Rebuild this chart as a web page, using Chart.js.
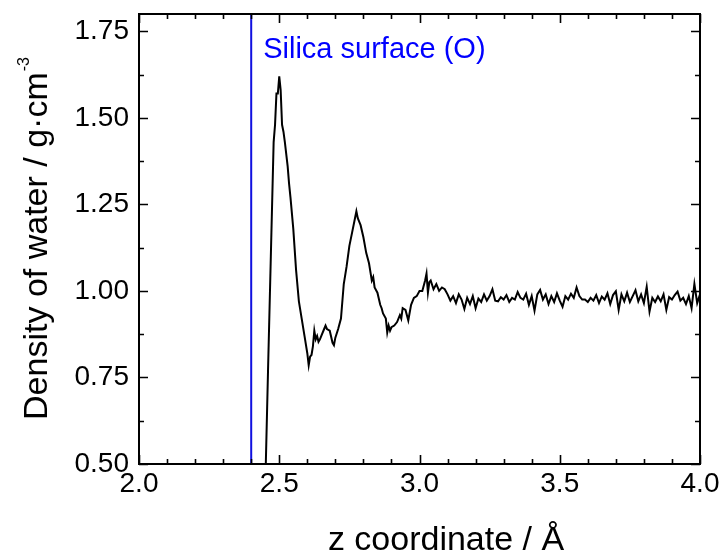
<!DOCTYPE html>
<html>
<head>
<meta charset="utf-8">
<script src="https://cdn.jsdelivr.net/npm/chart.js@4.4.0/dist/chart.umd.min.js"></script>
<style>
  html, body { margin: 0; padding: 0; background: #fff; }
  canvas { display: block; }
</style>
</head>
<body>
<canvas id="myChart" width="723" height="554"></canvas>
<script>
// water density profile next to the silica surface
const zValues = [
  2.44, 2.45, 2.46, 2.47, 2.48, 2.485, 2.49, 2.495, 2.50, 2.505,
  2.51, 2.515, 2.52, 2.53, 2.535, 2.54, 2.55, 2.56, 2.57, 2.58,
  2.59, 2.60, 2.605, 2.61, 2.615, 2.62, 2.625, 2.63, 2.635, 2.64,
  2.645, 2.65, 2.66, 2.665, 2.67, 2.68, 2.69, 2.695, 2.70, 2.71,
  2.72, 2.73, 2.74, 2.75, 2.76, 2.77, 2.775, 2.78, 2.785, 2.79,
  2.80, 2.81, 2.82, 2.83, 2.835, 2.84, 2.85, 2.86, 2.865, 2.87,
  2.88, 2.885, 2.89, 2.895, 2.90, 2.91, 2.92, 2.93, 2.935, 2.94,
  2.95, 2.96, 2.97, 2.98, 2.99, 3.00, 3.01, 3.02, 3.025, 3.03,
  3.035, 3.04, 3.05, 3.06, 3.07, 3.08, 3.09, 3.10, 3.11,
  3.12, 3.13, 3.14, 3.15, 3.16, 3.17, 3.18, 3.19, 3.20, 3.21,
  3.22, 3.23, 3.24, 3.25, 3.26, 3.27, 3.28, 3.29, 3.30, 3.31,
  3.32, 3.33, 3.34, 3.35, 3.36, 3.37, 3.38, 3.39, 3.40, 3.41,
  3.42, 3.43, 3.44, 3.45, 3.46, 3.47, 3.48, 3.49, 3.50, 3.51,
  3.52, 3.53, 3.54, 3.55, 3.56, 3.57, 3.58, 3.59, 3.60, 3.61,
  3.62, 3.63, 3.64, 3.65, 3.66, 3.67, 3.68, 3.69, 3.70, 3.71,
  3.72, 3.73, 3.74, 3.75, 3.76, 3.77, 3.78, 3.79, 3.80, 3.81,
  3.82, 3.83, 3.84, 3.85, 3.86, 3.87, 3.88, 3.89, 3.90, 3.91,
  3.92, 3.93, 3.94, 3.95, 3.96, 3.97, 3.98, 3.99, 4.00
];
const density = [
  0.10, 0.43, 0.77, 1.10, 1.43, 1.48, 1.57, 1.57, 1.62, 1.58,
  1.48, 1.46, 1.43, 1.36, 1.31, 1.27, 1.18, 1.06, 0.97, 0.92,
  0.87, 0.82, 0.785, 0.81, 0.815, 0.84, 0.885, 0.86, 0.87, 0.853,
  0.86, 0.87, 0.89, 0.90, 0.89, 0.885, 0.85, 0.843, 0.865, 0.89,
  0.92, 1.02, 1.07, 1.13, 1.17, 1.21, 1.23, 1.21, 1.20, 1.19,
  1.155, 1.11, 1.08, 1.03, 1.04, 1.01, 0.995, 0.96, 0.95, 0.935,
  0.92, 0.88, 0.90, 0.885, 0.895, 0.90, 0.91, 0.93, 0.92, 0.95,
  0.945, 0.915, 0.96, 0.98, 0.985, 1.00, 1.00, 1.03, 1.05, 0.995,
  1.025, 1.03, 1.005, 1.02, 1.00, 1.01, 1.005, 0.99, 0.972,
  0.985, 0.965, 0.990, 0.975, 0.948, 0.980, 0.962, 0.985, 0.950, 0.978,
  0.968, 0.990, 0.972, 0.985, 1.005, 0.972, 0.970, 0.982, 0.975, 0.988,
  0.968, 0.980, 0.975, 0.997, 0.980, 0.975, 0.992, 0.960, 0.985, 0.943,
  0.990, 1.003, 0.975, 0.990, 0.962, 0.985, 0.968, 0.993, 0.972, 0.954,
  0.985, 0.975, 0.992, 0.980, 1.010, 0.985, 0.975, 0.975, 0.968, 0.980,
  0.972, 0.988, 0.965, 0.984, 0.975, 0.993, 0.962, 0.988, 0.999, 0.945,
  0.990, 0.970, 0.995, 0.968, 0.985, 1.002, 0.970, 0.990, 0.965, 1.012,
  0.940, 0.980, 0.968, 0.984, 0.970, 0.990, 0.945, 0.982, 0.975, 0.988,
  0.998, 0.972, 0.980, 0.962, 0.985, 0.950, 1.020, 0.965, 0.990
];

const surfaceZ = 2.4;
const surfaceLabel = 'Silica surface (O)';
const xTicks = [2.0, 2.5, 3.0, 3.5, 4.0];
const yTicks = [0.50, 0.75, 1.00, 1.25, 1.50, 1.75];
const xRange = [2.0, 4.0];
const yRange = [0.5, 1.8];
const xMinorStep = 0.1;
const yMinorStep = 0.125;

const FONT = '"Liberation Sans", Arial, Helvetica, sans-serif';
const BLUE = '#0000ff';

function isMajor(v, list) {
    return list.some(t => Math.abs(t - v) < 1e-6);
}

// frame + inward ticks on all four sides
const framePlugin = {
    id: 'frame',
    afterDatasetsDraw(chart) {
        const { ctx, chartArea: a, scales: { x, y } } = chart;
        ctx.save();
        ctx.strokeStyle = '#000';
        ctx.lineWidth = 1.6;
        ctx.beginPath();
        for (let v = xRange[0]; v <= xRange[1] + 1e-9; v += xMinorStep) {
            const px = Math.round(x.getPixelForValue(v)) + 0.5;
            const len = isMajor(v, xTicks) ? 9 : 5;
            ctx.moveTo(px, a.bottom); ctx.lineTo(px, a.bottom - len);
            ctx.moveTo(px, a.top); ctx.lineTo(px, a.top + len);
        }
        for (let v = yRange[0]; v <= yRange[1] + 1e-9; v += yMinorStep) {
            const py = Math.round(y.getPixelForValue(v)) + 0.5;
            const len = isMajor(v, yTicks) ? 9 : 5;
            ctx.moveTo(a.left, py); ctx.lineTo(a.left + len, py);
            ctx.moveTo(a.right, py); ctx.lineTo(a.right - len, py);
        }
        ctx.stroke();
        ctx.lineWidth = 2;
        ctx.strokeRect(a.left, a.top, a.right - a.left, a.bottom - a.top);
        ctx.restore();
    }
};

// axis titles (with superscript) and the surface label
const textPlugin = {
    id: 'texts',
    afterDraw(chart) {
        const { ctx, chartArea: a, scales: { x } } = chart;
        ctx.save();
        ctx.fillStyle = '#000';
        ctx.textBaseline = 'alphabetic';

        // x title
        ctx.font = '34px ' + FONT;
        ctx.textAlign = 'center';
        ctx.fillText('z coordinate / Å', 446, 550);

        // y title, rotated
        const main = 'Density of water / g·cm';
        ctx.font = '34px ' + FONT;
        const w = ctx.measureText(main).width;
        ctx.font = '16px ' + FONT;
        const ws = ctx.measureText('-3').width;
        ctx.translate(47, (a.top + a.bottom) / 2);
        ctx.rotate(-Math.PI / 2);
        ctx.textAlign = 'left';
        const start = -(w + ws) / 2;
        ctx.font = '34px ' + FONT;
        ctx.fillText(main, start, 0);
        ctx.font = '16px ' + FONT;
        ctx.fillText('-3', start + w + 1, -18);
        ctx.restore();

        // label next to the surface line
        ctx.save();
        ctx.fillStyle = BLUE;
        ctx.font = '29px ' + FONT;
        ctx.textAlign = 'left';
        ctx.textBaseline = 'alphabetic';
        ctx.fillText(surfaceLabel, x.getPixelForValue(surfaceZ) + 12, a.top + 44);
        ctx.restore();
    }
};

const ctx = document.getElementById('myChart').getContext('2d');
new Chart(ctx, {
    type: 'line',
    data: {
        datasets: [
            {
                label: 'density',
                data: zValues.map((z, i) => ({ x: z, y: density[i] })),
                borderColor: '#000',
                borderWidth: 2,
                pointRadius: 0,
                tension: 0,
                fill: false
            },
            {
                label: surfaceLabel,
                data: [{ x: surfaceZ, y: yRange[0] }, { x: surfaceZ, y: yRange[1] }],
                borderColor: '#1010e0',
                borderWidth: 2,
                pointRadius: 0,
                fill: false
            }
        ]
    },
    options: {
        responsive: false,
        animation: false,
        layout: { padding: { top: 14, right: 23, left: 0, bottom: 0 } },
        plugins: {
            legend: { display: false },
            tooltip: { enabled: false }
        },
        scales: {
            x: {
                type: 'linear',
                min: xRange[0],
                max: xRange[1],
                grid: { display: false, drawTicks: false },
                border: { display: false },
                afterBuildTicks: s => { s.ticks = xTicks.map(v => ({ value: v })); },
                afterFit: s => { s.height = 90; s.paddingLeft = 0; s.paddingRight = 0; },
                ticks: {
                    color: '#000',
                    padding: 3,
                    maxRotation: 0,
                    font: { family: FONT, size: 28 },
                    callback: v => v.toFixed(1)
                }
            },
            y: {
                type: 'linear',
                min: yRange[0],
                max: yRange[1],
                grid: { display: false, drawTicks: false },
                border: { display: false },
                afterBuildTicks: s => { s.ticks = yTicks.map(v => ({ value: v })); },
                afterFit: s => { s.width = 139; s.paddingTop = 0; s.paddingBottom = 0; },
                ticks: {
                    color: '#000',
                    padding: 10,
                    font: { family: FONT, size: 28 },
                    callback: v => v.toFixed(2)
                }
            }
        }
    },
    plugins: [framePlugin, textPlugin]
});
</script>
</body>
</html>
